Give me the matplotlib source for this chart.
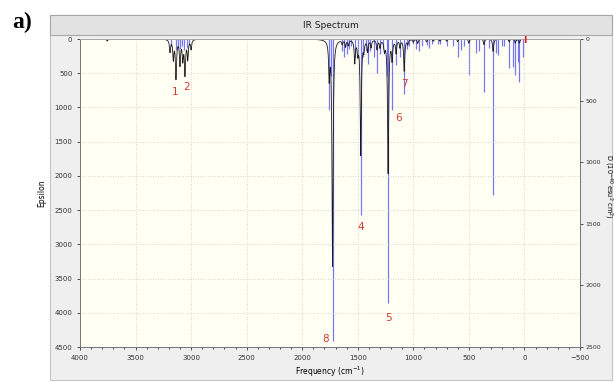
import numpy as np
import matplotlib.pyplot as plt
from matplotlib.patches import Rectangle
from matplotlib.ticker import MultipleLocator

# broadened spectrum (left axis, Epsilon): band centres and heights
band_freq = [3755, 3190, 3160, 3136, 3100, 3075, 3055, 3030, 3000,
             1757, 1727, 1640, 1610, 1585, 1527, 1500, 1473, 1445, 1410,
             1380, 1327, 1300, 1260, 1227, 1191, 1155, 1120, 1082, 1050,
             1000, 960, 880, 820, 760, 700, 600, 500, 364, 282, 137, 82, 45]
band_eps = [30, 180, 280, 560, 360, 280, 500, 280, 140,
            520, 3300, 60, 100, 80, 330, 180, 1680, 140, 170,
            110, 140, 110, 140, 1950, 280, 190, 110, 460, 70,
            40, 60, 40, 30, 30, 30, 40, 60, 80, 180, 40, 60, 60]

# stick spectrum (right axis, D)
stick_freq = [3180, 3140, 3120, 3100, 3080, 3060, 3040, 3020,
              1760, 1745, 1727, 1640, 1620, 1600, 1580, 1560, 1527, 1500,
              1473, 1455, 1430, 1410, 1390, 1327, 1350, 1300, 1270, 1240,
              1227, 1191, 1155, 1120, 1082, 1060, 1040, 1000, 980, 950,
              920, 880, 860, 830, 780, 760, 700, 640, 600, 570, 540, 500,
              436, 410, 364, 318, 282, 255, 236, 200, 180, 137, 100, 82,
              55, 45, 10]
stick_d = [60, 90, 70, 80, 60, 90, 70, 50,
           576, 300, 2450, 100, 150, 120, 80, 60, 150, 120,
           1430, 150, 100, 200, 100, 275, 150, 120, 80, 300,
           2140, 575, 210, 150, 450, 80, 60, 40, 80, 100,
           60, 50, 70, 40, 40, 40, 60, 60, 146, 90, 60, 290,
           115, 100, 430, 70, 1265, 110, 130, 60, 60, 235, 225, 290,
           190, 350, 146]

# red peak labels
peak_labels = ['1', '2', '8', '4', '5', '6', '7']
label_freq = [3145, 3045, 1790, 1473, 1227, 1130, 1078]
label_eps = [780, 700, 4380, 2740, 4070, 1150, 660]

grid = np.arange(-500, 4001, 1.0)
hw = 6.0
eps = np.zeros_like(grid)
for f, h in zip(band_freq, band_eps):
    eps += h * hw**2 / ((grid - f)**2 + hw**2)

fig = plt.figure(figsize=(6.14, 3.83), dpi=100)
fig.patch.set_facecolor('white')
W, H = 614, 383

# outer panel and title bar
fig.patches.append(Rectangle((50 / W, 1 - 380 / H), 562 / W, 365 / H,
                             transform=fig.transFigure, facecolor='#efefef',
                             edgecolor='#c4c4c4', lw=0.8, zorder=-2))
fig.patches.append(Rectangle((50 / W, 1 - 35 / H), 562 / W, 20 / H,
                             transform=fig.transFigure, facecolor='#e2e2e2',
                             edgecolor='#a8a8a8', lw=0.8, zorder=-1))
fig.text(331 / W, 1 - 25 / H, 'IR Spectrum', ha='center', va='center',
         fontsize=6.5, color='#202020')
fig.text(12 / W, 1 - 22 / H, 'a)', ha='left', va='center', fontsize=17,
         fontweight='bold', family='Liberation Serif')

ax = fig.add_axes([80 / W, 1 - 347 / H, 500 / W, 308 / H])
ax2 = ax.twinx()
ax.set_zorder(ax2.get_zorder() + 1)
ax.patch.set_visible(False)
ax2.patch.set_visible(True)
ax2.patch.set_facecolor('#fffff4')

ax2.vlines(stick_freq, 0, stick_d, color='#5f5ff0', lw=0.9, alpha=0.85)
ax.plot(grid, eps, color='#1a1a1a', lw=0.6)

for t, f, e in zip(peak_labels, label_freq, label_eps):
    ax.text(f, e, t, color='#d23a30', fontsize=7.5, ha='center', va='center')
ax.text(0, 15, 'I', color='#e02020', fontsize=6.5, fontweight='bold',
        ha='center', va='center')

ax.set_xlim(4000, -500)
ax.set_ylim(4500, 0)
ax2.set_ylim(2500, 0)
ax.xaxis.set_major_locator(MultipleLocator(500))
ax.xaxis.set_minor_locator(MultipleLocator(100))
ax.yaxis.set_major_locator(MultipleLocator(500))
ax2.yaxis.set_major_locator(MultipleLocator(500))

ax.grid(True, which='major', color='#c8c8c8', ls=(0, (1, 2)), lw=0.6)
ax.tick_params(labelsize=5, colors='#333333', length=2.5, width=0.6, pad=3)
ax.tick_params(which='minor', length=1.5, width=0.5)
ax2.tick_params(labelsize=4.5, colors='#333333', length=2.5, width=0.6, pad=1.5)

for a in (ax, ax2):
    for s in a.spines.values():
        s.set_color('#777777')
        s.set_linewidth(0.7)
    a.spines['top'].set_color('#aaaaaa')

ax.set_xlabel('Frequency (cm$^{-1}$)', fontsize=5.5, labelpad=3)
ax.set_ylabel('Epsilon', fontsize=5.5, labelpad=6)
ax2.set_ylabel('D (10$^{-40}$ esu$^2$ cm$^2$)', fontsize=4.8,
               rotation=270, va='center')
ax2.yaxis.set_label_coords(1.056, 0.52)

fig.savefig('out.png', dpi=100)
